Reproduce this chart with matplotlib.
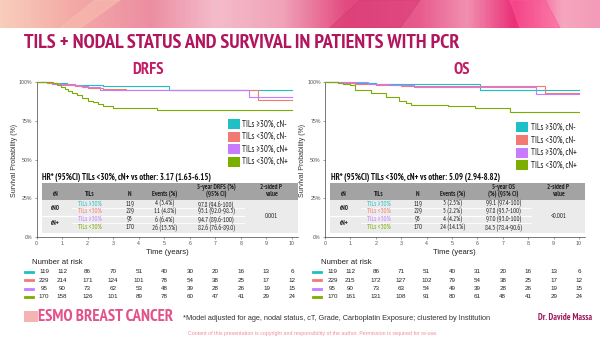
import matplotlib
matplotlib.use("Agg")
import matplotlib.pyplot as plt
import numpy as np
from matplotlib.patches import Rectangle, Arc, Polygon
from matplotlib.colors import LinearSegmentedColormap
import matplotlib.transforms as mtrans

# ---------------- data ----------------
groups = ['TILs ≥30%, cN-', 'TILs <30%, cN-', 'TILs ≥30%, cN+', 'TILs <30%, cN+']
group_colors = ['#1fbfc6', '#f37a72', '#c77cff', '#7cae00']

# DRFS Kaplan-Meier step data (time in years, survival %)
drfs_t = [
    [0, 0.5, 1.2, 2.6, 5.2, 10],
    [0, 0.4, 0.9, 1.5, 2.0, 2.6, 3.5, 8.65, 10],
    [0, 0.6, 1.0, 1.8, 2.5, 8.3, 10],
    [0, 0.65, 0.8, 0.95, 1.1, 1.25, 1.4, 1.6, 1.8, 2.0, 2.2, 2.4, 2.6, 3.0, 4.7, 10],
]
drfs_s = [
    [100, 99.2, 98.3, 97.6, 94.8, 94.8],
    [100, 99.5, 98.7, 97.5, 96.3, 95.6, 95.1, 88.6, 88.6],
    [100, 98.9, 97.9, 96.8, 94.9, 90.6, 90.6],
    [100, 99.2, 98.3, 97.0, 95.5, 94.0, 92.8, 91.5, 89.5, 88.0, 87.0, 85.5, 84.3, 83.3, 82.2, 82.2],
]

# OS Kaplan-Meier step data
os_t = [
    [0, 0.8, 2.0, 6.1, 10],
    [0, 0.5, 1.2, 2.0, 3.0, 8.65, 10],
    [0, 1.7, 2.5, 3.5, 8.3, 10],
    [0, 0.5, 0.7, 1.0, 1.2, 1.8, 2.4, 2.9, 3.2, 3.4, 4.85, 5.9, 7.3, 10],
]
os_s = [
    [100, 99.4, 98.6, 94.9, 94.9],
    [100, 99.5, 98.9, 98.2, 97.3, 92.8, 92.8],
    [100, 99.0, 98.0, 97.0, 92.4, 92.4],
    [100, 99.4, 98.8, 98.0, 94.6, 92.9, 90.2, 88.0, 86.5, 85.3, 84.3, 83.2, 80.8, 80.8],
]

risk_times = [0, 1, 2, 3, 4, 5, 6, 7, 8, 9, 10]
drfs_risk = [
    [119, 112, 86, 70, 51, 40, 30, 20, 16, 13, 6],
    [229, 214, 171, 124, 101, 78, 54, 38, 25, 17, 12],
    [95, 90, 73, 62, 53, 48, 39, 28, 26, 19, 15],
    [170, 158, 126, 101, 89, 78, 60, 47, 41, 29, 24],
]
os_risk = [
    [119, 112, 86, 71, 51, 40, 31, 20, 16, 13, 6],
    [229, 215, 172, 127, 102, 79, 54, 38, 25, 17, 12],
    [95, 90, 73, 63, 54, 49, 39, 28, 26, 19, 15],
    [170, 161, 131, 108, 91, 80, 61, 48, 41, 29, 24],
]

x_ticks = [0, 1, 2, 3, 4, 5, 6, 7, 8, 9, 10]
y_ticks = [0, 25, 50, 75, 100]
y_ticklabels = ['0%', '25%', '50%', '75%', '100%']

cn_labels = ['cN0', 'cN+']
tils_labels = ['TILs ≥30%', 'TILs <30%', 'TILs ≥30%', 'TILs <30%']
n_vals = [119, 229, 95, 170]
drfs_events = ['4 (3.4%)', '11 (4.8%)', '6 (6.4%)', '26 (15.3%)']
drfs_5yr = ['97.8 (94.6-100)', '95.1 (92.0-98.3)', '94.7 (89.6-100)', '82.6 (76.6-89.0)']
drfs_p = '0.001'
os_events = ['3 (2.5%)', '5 (2.2%)', '4 (4.2%)', '24 (14.1%)']
os_5yr = ['99.1 (97.4-100)', '97.8 (95.7-100)', '97.0 (93.0-100)', '84.3 (78.4-90.6)']
os_p = '<0.001'

drfs_hr = 'HR* (95%CI) TILs <30%, cN+ vs other: 3.17 (1.63-6.15)'
os_hr = 'HR* (95%CI) TILs <30%, cN+ vs other: 5.09 (2.94-8.82)'

title = 'TILS + NODAL STATUS AND SURVIVAL IN PATIENTS WITH PCR'
footnote = '*Model adjusted for age, nodal status, cT, Grade, Carboplatin Exposure; clustered by Institution'
copyright_txt = 'Content of this presentation is copyright and responsibility of the author. Permission is required for re-use.'
author = 'Dr. Davide Massa'

# ---------------- figure ----------------
W, H = 600, 338
NARROW = ['PT Sans Narrow', 'DejaVu Sans']
SANS = ['Liberation Sans', 'DejaVu Sans']
plt.rcParams['font.family'] = SANS

fig = plt.figure(figsize=(W / 100, H / 100), dpi=100)
fig.patch.set_facecolor('white')


def fx(x):
    return x / W


def fy(y):
    return 1 - y / H


def ax_px(x0, y0, x1, y1, **kw):
    return fig.add_axes([x0 / W, 1 - y1 / H, (x1 - x0) / W, (y1 - y0) / H], **kw)


def rect(x0, y0, x1, y1, **kw):
    fig.add_artist(Rectangle((fx(x0), fy(y1)), (x1 - x0) / W, (y1 - y0) / H,
                             transform=fig.transFigure, **kw))


def txt(x, y, s, **kw):
    kw.setdefault('va', 'center')
    fig.text(fx(x), fy(y), s, **kw)


# ---------------- banner ----------------
bax = ax_px(0, 0, 600, 28)
bax.set_axis_off()
stops = [(0.0, '#f8cdbc'), (0.12, '#f3aaa6'), (0.25, '#ec8ea2'), (0.36, '#f4bccb'),
         (0.47, '#f0a3b9'), (0.58, '#e2497f'), (0.70, '#e75b8d'), (0.78, '#f190b0'),
         (0.86, '#ea2f78'), (0.94, '#f7a6c0'), (1.0, '#f39bb8')]
cmap = LinearSegmentedColormap.from_list('banner', stops)
grad = np.linspace(0, 1, 600)[None, :]
bax.imshow(grad, aspect='auto', cmap=cmap, extent=(0, 600, 28, 0))
bax.add_patch(Polygon([[60, 28], [95, 0], [120, 0], [80, 28]], closed=True, color='#f7b9ae', alpha=0.7))
bax.add_patch(Polygon([[330, 28], [360, 0], [420, 0], [400, 28]], closed=True, color='#d93a74', alpha=0.5))
bax.add_patch(Polygon([[520, 28], [510, 0], [545, 0], [560, 28]], closed=True, color='#ff5a96', alpha=0.5))
bax.add_patch(Arc((262, 70), 210, 190, theta1=20, theta2=160, color='white', lw=2.5))
bax.add_patch(Arc((262, 55), 70, 80, theta1=30, theta2=150, color='white', lw=1.5))
bax.add_patch(Arc((440, -20), 100, 120, theta1=240, theta2=330, color='white', lw=2.0))
bax.set_xlim(0, 600)
bax.set_ylim(28, 0)

# ---------------- titles ----------------
txt(24, 43, title, fontsize=14.5, fontweight='bold', color='#b0155e', family=NARROW, ha='left')
txt(148, 70, 'DRFS', fontsize=12, fontweight='bold', color='#c21d66', family=NARROW, ha='center')
txt(462, 70, 'OS', fontsize=12, fontweight='bold', color='#c21d66', family=NARROW, ha='center')


# ---------------- panels ----------------
def panel(x0, xr, ts, ss, risks, hr, events, fiveyr, pval, hdr5, leg_y, tbl_right):
    # x0: pixel of t=0, xr: pixel per year
    xmax = 10.22
    ax = ax_px(x0, 82, x0 + xr * xmax, 237)
    ax.set_xlim(0, xmax)
    ax.set_ylim(0, 100)
    for t, s, c in zip(ts, ss, group_colors):
        ax.step(t, s, where='post', color=c, lw=0.8, clip_on=False, zorder=3)
    for sp in ['top', 'right']:
        ax.spines[sp].set_visible(False)
    for sp in ['left', 'bottom']:
        ax.spines[sp].set_color('#444444')
        ax.spines[sp].set_linewidth(0.5)
    ax.set_xticks(x_ticks)
    ax.set_yticks(y_ticks)
    ax.set_yticklabels(y_ticklabels)
    ax.tick_params(labelsize=3.8, colors='#555555', length=1.5, width=0.4, pad=1.5)
    ax.set_xlabel('Time (years)', fontsize=5.5, labelpad=2, color='#222222')
    ax.patch.set_alpha(0)

    # y label
    txt(x0 - 22, 160, 'Survival Probability (%)', fontsize=5, rotation=90, ha='center', color='#333333')

    # legend
    for i, (g, c) in enumerate(zip(groups, group_colors)):
        yy = leg_y[i]
        rect(x0 + 191, yy - 5, x0 + 203, yy + 5, facecolor=c, edgecolor='none', zorder=5)
        txt(x0 + 206, yy, g, fontsize=6.3, ha='left', color='#222222', family=NARROW)

    # HR text
    txt(x0 + 6, 177, hr, fontsize=6.2, ha='left', fontweight='bold', color='#111111', family=NARROW)

    # table
    tl = x0 + 5
    tr = tbl_right
    rect(tl, 183, tr, 200, facecolor='#a3a3a3', edgecolor='none', zorder=6)
    rect(tl, 200, tr, 233, facecolor='#ebebeb', edgecolor='none', zorder=6)
    tw = tr - tl
    col = [tl + tw * f for f in (0.055, 0.19, 0.345, 0.48, 0.68, 0.895)]
    hk = dict(fontsize=4.8, ha='center', fontweight='bold', color='#222222', family=NARROW, zorder=7)
    txt(col[0], 195, 'cN', **hk)
    txt(col[1], 195, 'TILs', **hk)
    txt(col[2], 195, 'N', **hk)
    txt(col[3], 195, 'Events (%)', **hk)
    txt(col[4], 187.5, hdr5[0], **hk)
    txt(col[4], 195, hdr5[1], **hk)
    txt(col[5], 187.5, '2-sided P', **hk)
    txt(col[5], 195, 'value', **hk)
    row_y = [204, 211.6, 219.4, 227.2]
    # separators
    for yy in (207.8, 223.3):
        fig.add_artist(plt.Line2D([fx(tl + tw * 0.12), fx(tl + tw * 0.79)], [fy(yy), fy(yy)],
                                  transform=fig.transFigure, color='white', lw=0.6, zorder=7))
    fig.add_artist(plt.Line2D([fx(tl), fx(tl + tw * 0.79)], [fy(215.5), fy(215.5)],
                              transform=fig.transFigure, color='white', lw=0.9, zorder=7))
    bk = dict(fontsize=4.8, ha='center', color='#222222', family=NARROW, zorder=7)
    txt(col[0], 208, cn_labels[0], fontweight='bold', **bk)
    txt(col[0], 223.3, cn_labels[1], fontweight='bold', **bk)
    for i in range(4):
        txt(col[1], row_y[i], tils_labels[i], fontsize=4.8, ha='center', color=group_colors[i],
            family=NARROW, zorder=7)
        txt(col[2], row_y[i], str(n_vals[i]), **bk)
        txt(col[3], row_y[i], events[i], **bk)
        txt(col[4], row_y[i], fiveyr[i], **bk)
    txt(col[5], 216, pval, **bk)

    # number at risk
    blend = mtrans.blended_transform_factory(ax.transData, fig.transFigure)
    txt(x0 - 4, 262, 'Number at risk', fontsize=5.6, ha='left', color='#222222')
    risk_y = [271.5, 280, 288.5, 297]
    for i, (row, c) in enumerate(zip(risks, group_colors)):
        yy = risk_y[i]
        fig.add_artist(plt.Line2D([fx(x0 - 12), fx(x0 - 4)], [fy(yy), fy(yy)],
                                  transform=fig.transFigure, color=c, lw=2))
        for t, v in zip(risk_times, row):
            tt = max(t, 0.3)
            fig.text(tt, fy(yy), str(v), transform=blend, fontsize=4.5, ha='center',
                     va='center', color='#222222')
    return ax


panel(36.5, 25.55, drfs_t, drfs_s, drfs_risk, drfs_hr, drfs_events, drfs_5yr, drfs_p,
      ('5-year DRFS (%)', '(95% CI)'), [124, 136.5, 149, 161.5], 298)
panel(325, 25.4, os_t, os_s, os_risk, os_hr, os_events, os_5yr, os_p,
      ('5-year OS', '(%) (95% CI)'), [127, 140, 152.5, 165], 585)

# ---------------- footer ----------------
rect(24, 311, 38, 322, facecolor='#f6b3b3', edgecolor='none')
txt(38, 317, 'ESMO BREAST CANCER', fontsize=12, fontweight='bold', color='#e2528a',
    family=NARROW, ha='left')
txt(183, 318, footnote, fontsize=5.3, ha='left', color='#333333')
txt(188, 333, copyright_txt, fontsize=3.8, ha='left', color='#f08c9a')
txt(592, 318, author, fontsize=6.5, ha='right', fontweight='bold', color='#9c1b5c', family=NARROW)

fig.savefig('out.png', dpi=100)
